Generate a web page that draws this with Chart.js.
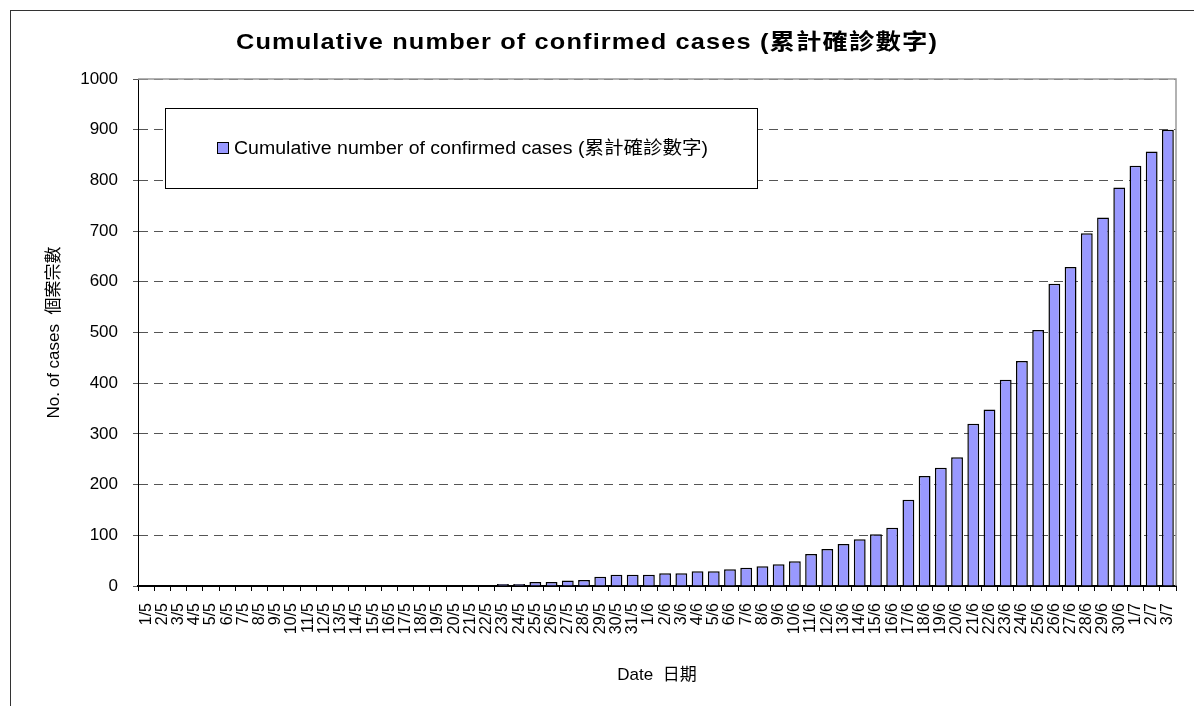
<!DOCTYPE html>
<html>
<head>
<meta charset="utf-8">
<script src="https://cdn.jsdelivr.net/npm/chart.js@4"></script>
<style>
  body { margin: 0; background: #fff; }
  #wrap { position: relative; width: 1194px; height: 706px; overflow: hidden; }
  #frame { position: absolute; left: 10px; top: 10px; width: 1300px; height: 800px;
           border-left: 1px solid #333; border-top: 1px solid #333; }
  canvas { position: absolute; left: 0; top: 0; }
</style>
</head>
<body>
<div id="wrap">
  <div id="frame"></div>
  <canvas id="chart" width="1194" height="706"></canvas>
</div>
<script>
const titleText = 'Cumulative number of confirmed cases (累計確診數字)';
const seriesName = 'Cumulative number of confirmed cases (累計確診數字)';

const dates = [
  '1/5','2/5','3/5','4/5','5/5','6/5','7/5','8/5','9/5','10/5','11/5','12/5','13/5','14/5','15/5','16/5',
  '17/5','18/5','19/5','20/5','21/5','22/5','23/5','24/5','25/5','26/5','27/5','28/5','29/5','30/5','31/5',
  '1/6','2/6','3/6','4/6','5/6','6/6','7/6','8/6','9/6','10/6','11/6','12/6','13/6','14/6','15/6',
  '16/6','17/6','18/6','19/6','20/6','21/6','22/6','23/6','24/6','25/6','26/6','27/6','28/6','29/6','30/6',
  '1/7','2/7','3/7'
];

const cases = [
  0,0,0,0,0,0,0,0,0,0,0,0,1,1,1,1,
  1,1,1,1,1,1,4,4,8,8,11,12,18,22,22,
  22,25,25,29,29,33,36,39,43,49,63,73,83,92,102,
  115,170,217,233,254,320,348,407,444,505,596,629,696,727,786,
  829,857,900
];

const yTicks = [0,100,200,300,400,500,600,700,800,900,1000];

const FONT = '"Liberation Sans", Arial, "Noto Sans CJK TC", sans-serif';

// draws text squeezed/stretched to a given width (the source image is wider than normal fonts)
function fitText(ctx, text, x, y, width) {
  const w = ctx.measureText(text).width;
  ctx.save();
  ctx.translate(x, y);
  ctx.scale(width / w, 1);
  ctx.fillText(text, 0, 0);
  ctx.restore();
}

// title and legend box drawn on the canvas
const decor = {
  id: 'decor',
  afterDatasetsDraw(chart) {
    const ctx = chart.ctx;
    const a = chart.chartArea;
    ctx.save();
    // plot border top / right
    ctx.strokeStyle = '#999';
    ctx.lineWidth = 1.5;
    ctx.beginPath();
    ctx.moveTo(a.left, a.top);
    ctx.lineTo(a.right, a.top);
    ctx.lineTo(a.right, a.bottom);
    ctx.stroke();

    // legend box
    ctx.fillStyle = '#fff';
    ctx.fillRect(165, 108, 592, 80);
    ctx.strokeStyle = '#000';
    ctx.lineWidth = 1;
    ctx.strokeRect(165.5, 108.5, 592, 80);
    ctx.fillStyle = '#9999FF';
    ctx.fillRect(217, 142, 12, 12);
    ctx.strokeRect(217.5, 142.5, 11, 11);
    ctx.fillStyle = '#000';
    ctx.font = '18px ' + FONT;
    ctx.textBaseline = 'middle';
    ctx.textAlign = 'left';
    fitText(ctx, seriesName, 234, 149, 474);

    // title
    ctx.font = 'bold 22px ' + FONT;
    ctx.letterSpacing = '1px';
    fitText(ctx, titleText, 236, 43, 702);
    ctx.restore();
  }
};

new Chart(document.getElementById('chart'), {
  type: 'bar',
  data: {
    labels: dates,
    datasets: [{
      label: seriesName,
      data: cases,
      backgroundColor: '#9999FF',
      borderColor: '#000',
      borderWidth: 1.5,
      categoryPercentage: 1,
      barPercentage: 0.73
    }]
  },
  options: {
    responsive: false,
    animation: false,
    layout: { padding: { left: 0, top: 79, right: 18, bottom: 0 } },
    plugins: {
      legend: { display: false },
      title: { display: false },
      tooltip: { enabled: false }
    },
    scales: {
      x: {
        afterFit(s) { s.height = 120; s.paddingLeft = 0; s.paddingRight = 0; },
        grid: { drawOnChartArea: false, drawTicks: true, tickLength: 5, color: '#000', offset: true },
        border: { color: '#000', width: 2 },
        ticks: {
          autoSkip: false, minRotation: 90, maxRotation: 90, padding: 12, color: '#000',
          font: { family: FONT, size: 16 }
        },
        title: {
          display: true, text: 'Date  日期', color: '#000',
          font: { family: FONT, size: 17 },
          padding: { top: 0, bottom: 20 }
        }
      },
      y: {
        min: 0, max: 1000,
        afterFit(s) { s.width = 138; },
        afterBuildTicks(s) { s.ticks = yTicks.map(v => ({ value: v })); },
        grid: { color: '#555', lineWidth: 1, tickLength: 5, drawTicks: true },
        border: { color: '#000', width: 1, dash: [9, 6] },
        ticks: {
          padding: 15, color: '#000',
          font: { family: FONT, size: 17 },
          callback: v => String(v)
        },
        title: {
          display: true, text: 'No. of cases  個案宗數', color: '#000',
          font: { family: FONT, size: 17 },
          padding: { top: 44, bottom: 0 }
        }
      }
    }
  },
  plugins: [decor]
});
</script>
</body>
</html>
